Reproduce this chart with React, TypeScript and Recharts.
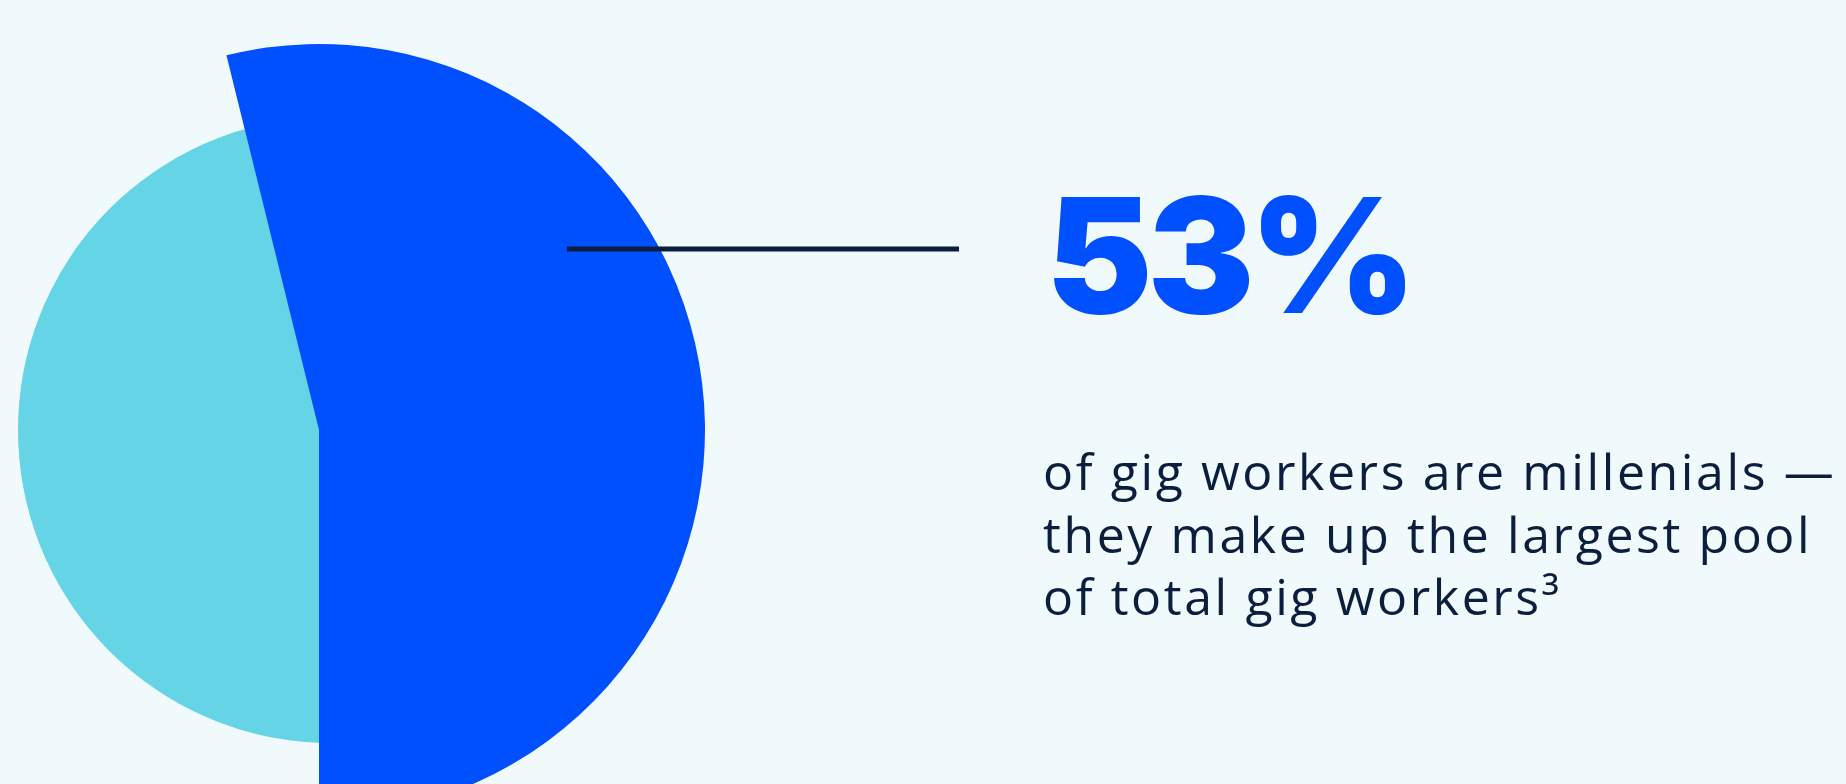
import { PieChart, Pie, Cell } from "recharts";

// share of gig workers by generation
const groups = ["Millennials", "Other generations"];
const shares = [53, 47];

const headline = `${shares[0]}%`;
const bodyLines = [
  "of gig workers are millenials —",
  "they make up the largest pool",
  "of total gig workers³",
];

const W = 1846;
const H = 784;

const BG = "#F0F9FC";
const BLUE = "#0050FF";
const CYAN = "#66D4E7";
const NAVY = "#0B1E3D";

export default function App() {
  const data = groups.map((name, i) => ({ name, value: shares[i] }));

  return (
    <div
      style={{
        position: "absolute",
        left: 0,
        top: 0,
        width: W,
        height: H,
        background: BG,
        overflow: "hidden",
      }}
    >
      <PieChart width={W} height={H} margin={{ top: 0, right: 0, bottom: 0, left: 0 }}>
        {/* whole pool, drawn as a full light disc behind */}
        <Pie
          data={data}
          dataKey="value"
          cx={331}
          cy={430}
          outerRadius={313}
          startAngle={-90}
          endAngle={270}
          stroke="none"
          isAnimationActive={false}
        >
          {data.map((d) => (
            <Cell key={d.name} fill={CYAN} stroke="none" />
          ))}
        </Pie>
        {/* millennial share on top; slight negative padding to match the artwork's sweep */}
        <Pie
          data={data}
          dataKey="value"
          cx={319}
          cy={430}
          outerRadius={386}
          startAngle={-90}
          endAngle={270}
          paddingAngle={-2.9}
          stroke="none"
          isAnimationActive={false}
        >
          {data.map((d, i) => (
            <Cell key={d.name} fill={i === 0 ? BLUE : "transparent"} stroke="none" />
          ))}
        </Pie>
      </PieChart>

      <svg
        width={W}
        height={H}
        style={{ position: "absolute", left: 0, top: 0, pointerEvents: "none" }}
      >
        <line x1={567} x2={959} y1={249} y2={249} stroke={NAVY} strokeWidth={5} />
        <text
          x={1046}
          y={313}
          fontFamily="Inter"
          fontWeight={900}
          fontSize={160}
          letterSpacing={-5}
          fill={BLUE}
        >
          {headline}
        </text>
        {bodyLines.map((line, i) => (
          <text
            key={i}
            x={1043}
            y={490 + i * 62.5}
            fontFamily="Open Sans"
            fontWeight={400}
            fontSize={50}
            letterSpacing={2.6}
            fill={NAVY}
          >
            {line}
          </text>
        ))}
      </svg>
    </div>
  );
}
